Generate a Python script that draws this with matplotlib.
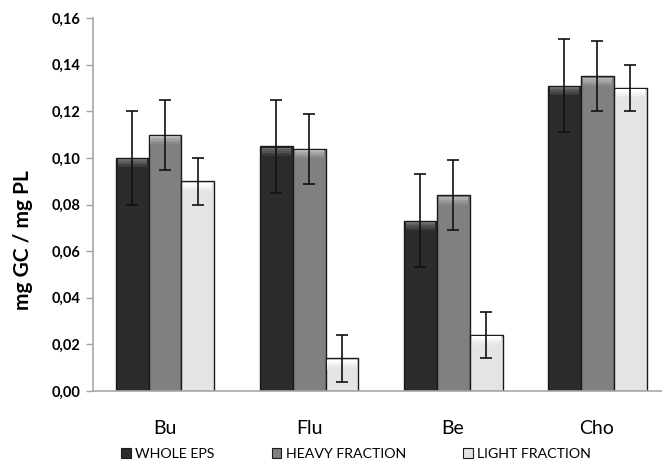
import numpy as np
import matplotlib.pyplot as plt
from matplotlib.colors import to_rgb
from matplotlib.patches import Patch

# средние значения и стандартные отклонения
groups = ['Bu', 'Flu', 'Be', 'Cho']
whole = [0.100, 0.105, 0.073, 0.131]
whole_err = [0.020, 0.020, 0.020, 0.020]
heavy = [0.110, 0.104, 0.084, 0.135]
heavy_err = [0.015, 0.015, 0.015, 0.015]
light = [0.090, 0.014, 0.024, 0.130]
light_err = [0.010, 0.010, 0.010, 0.010]
labels = ['WHOLE EPS', 'HEAVY FRACTION', 'LIGHT FRACTION']

colors = ['#2b2b2b', '#808080', '#e4e4e4']
tops = ['#6a6a6a', '#b4b4b4', '#ffffff']

plt.rcParams['font.family'] = ['Lato', 'DejaVu Sans']

fig = plt.figure(figsize=(6.62, 4.68), dpi=100)
ax = fig.add_axes([93/662, 77/468, 1 - 93/662, (391 - 18)/468])

x = np.arange(len(groups))
w = 0.229
series = [(whole, whole_err), (heavy, heavy_err), (light, light_err)]
for i, (vals, errs) in enumerate(series):
    pos = x + (i - 1)*w
    vals = np.array(vals)
    ax.bar(pos, vals, w, color=colors[i], edgecolor='#1a1a1a', linewidth=1.0, zorder=2)
    # фаска сверху: полоски от светлого к основному цвету
    c0, c1 = np.array(to_rgb(tops[i])), np.array(to_rgb(colors[i]))
    n = 6
    step = 0.0007
    for k in range(n):
        t = k/(n - 1)
        ax.bar(pos, step, w*0.88, bottom=vals - 0.0006 - (k + 1)*step,
               color=tuple(c0*(1 - t) + c1*t), linewidth=0, zorder=3)
    ax.errorbar(pos, vals, yerr=errs, fmt='none', ecolor='#111111',
                elinewidth=1.2, capsize=4, capthick=1.2, zorder=4)

ax.set_xlim(-0.5, 3.451)
ax.set_ylim(0, 0.16)
yt = np.arange(0, 0.161, 0.02)
ax.set_yticks(yt)
ax.set_yticklabels(['{:.2f}'.format(v).replace('.', ',') for v in yt],
                   fontsize=10.5, fontweight='bold')
ax.set_xticks(x)
ax.set_xticklabels(groups, fontsize=14)
ax.tick_params(axis='x', length=0, pad=21)
ax.tick_params(axis='y', length=5, color='#a0a0a0', width=1, pad=4)
for s in ['top', 'right']:
    ax.spines[s].set_visible(False)
for s in ['left', 'bottom']:
    ax.spines[s].set_color('#a8a8a8')
    ax.spines[s].set_linewidth(1.2)

ax.set_ylabel('mg GC / mg PL', fontsize=15, fontweight='bold')
ax.yaxis.set_label_coords(-0.105, 0.405)

handles = [Patch(facecolor=c, edgecolor='#1a1a1a', linewidth=0.8) for c in colors]
fig.legend(handles, labels, ncol=3, frameon=False, fontsize=10.2,
           loc='center', bbox_to_anchor=(356/662, 1 - 454/468),
           handlelength=0.7, handleheight=0.7, handletextpad=0.3,
           columnspacing=4.0)

fig.savefig('out.png', dpi=100)
